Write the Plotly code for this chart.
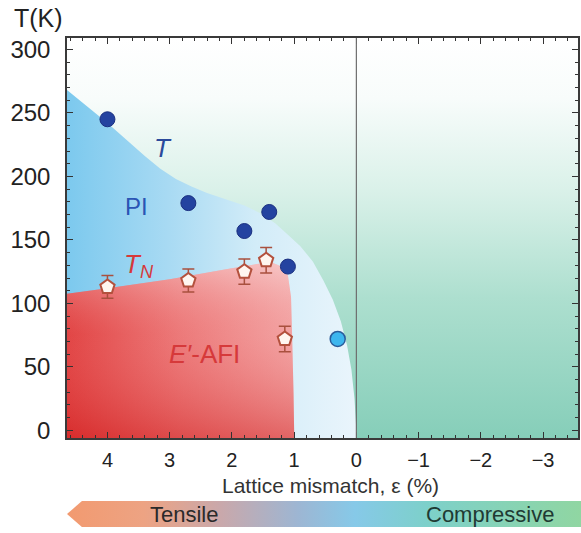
import plotly.graph_objects as go

# ---------------- data ----------------
# T (structural transition) points, dark blue circles
t_eps = [4.0, 2.7, 1.8, 1.4, 1.1]
t_temp = [245, 179, 157, 172, 129]
# bulk-like point, light blue circle
t0_eps = [0.3]
t0_temp = [72]
# T_N points with error bars (pentagons)
tn_eps = [4.0, 2.7, 1.8, 1.45, 1.15]
tn_temp = [113, 118, 125, 134, 72]
tn_err = [9, 9, 10, 10, 10]

# PI phase boundary (upper edge of blue region)
pi_eps = [5.0, 4.65, 4.3, 4.0, 3.7, 3.4, 3.15, 2.9, 2.65, 2.4, 2.1, 1.8, 1.54, 1.3, 1.1, 0.9,
          0.7, 0.53, 0.38, 0.25, 0.15, 0.08, 0.03, 0.0, 0.0, 5.0]
pi_temp = [283, 268, 254, 242, 229, 216, 206, 198, 192, 187, 182, 177, 171, 163, 154, 145,
           133, 118, 103, 86, 67, 48, 25, 0, -20, -20]

# E'-AFI phase boundary (red region)
afi_eps = [5.0, 4.65, 4.0, 3.0, 2.07, 1.6, 1.35, 1.2, 1.1, 1.05, 1.03, 1.01, 1.0, 1.0, 5.0]
afi_temp = [106, 107.5, 112, 119, 127, 131, 132, 129, 122, 105, 70, 30, 0, -20, -20]

# background (whole plane)
bg_eps = [6.0, -5.0, -5.0, 6.0]
bg_temp = [-20, -20, 330, 330]

# strain arrow (in its own unit axis)
arrow_x = [0.0, 0.029, 1.0, 1.0, 0.029]
arrow_y = [0.5, 1.0, 1.0, 0.0, 0.0]

x_tickvals = [4, 3, 2, 1, 0, -1, -2, -3]
x_ticktext = ["4", "3", "2", "1", "0", "\u22121", "\u22122", "\u22123"]
y_tickvals = [0, 50, 100, 150, 200, 250, 300]
y_ticktext = ["0", "50", "100", "150", "200", "250", "300"]

FONT = "Liberation Sans, Arial, Helvetica, sans-serif"

fig = go.Figure()

fig.add_trace(go.Scatter(
    x=bg_eps, y=bg_temp, mode="none", fill="toself",
    fillgradient=dict(type="vertical", start=-6, stop=309,
                      colorscale=[[0, "#86CEB9"], [0.35, "#ADDFCF"], [0.62, "#DAF1E9"],
                                  [0.85, "#F8FCFB"], [1, "#FFFFFF"]]),
    hoverinfo="skip", showlegend=False))

fig.add_trace(go.Scatter(
    x=pi_eps, y=pi_temp, mode="none", fill="toself",
    fillgradient=dict(type="horizontal", start=0, stop=4.65,
                      colorscale=[[0, "#EAF5FC"], [0.35, "#D2ECF8"], [0.65, "#A8DAF3"], [1, "#7CC9EE"]]),
    hoverinfo="skip", showlegend=False))

fig.add_trace(go.Scatter(
    x=afi_eps, y=afi_temp, mode="none", fill="toself",
    fillgradient=dict(type="horizontal", start=1.0, stop=4.65,
                      colorscale=[[0, "#F3A8A8"], [0.5, "#EC7A7A"], [1, "#E04040"]]),
    hoverinfo="skip", showlegend=False))

fig.add_trace(go.Scatter(
    x=afi_eps, y=afi_temp, mode="none", fill="toself",
    fillgradient=dict(type="vertical", start=-6, stop=130,
                      colorscale=[[0, "rgba(205,20,20,0.45)"], [0.6, "rgba(240,120,120,0.1)"],
                                  [1, "rgba(255,255,255,0.35)"]]),
    hoverinfo="skip", showlegend=False))

# markers
fig.add_trace(go.Scatter(
    x=tn_eps, y=tn_temp, mode="markers",
    marker=dict(symbol="pentagon", size=15, color="#FFF6F0",
                line=dict(color="#B4513D", width=2)),
    error_y=dict(type="data", array=tn_err, color="#A9503E", thickness=1.5, width=6),
    showlegend=False))

fig.add_trace(go.Scatter(
    x=t_eps, y=t_temp, mode="markers",
    marker=dict(symbol="circle", size=15, color="#2443A0", line=dict(color="#1A2F80", width=1)),
    showlegend=False))

fig.add_trace(go.Scatter(
    x=t0_eps, y=t0_temp, mode="markers",
    marker=dict(symbol="circle", size=15, color="#3DB6EE", line=dict(color="#2A5C9A", width=1.5)),
    showlegend=False))

# strain arrow
fig.add_trace(go.Scatter(
    x=arrow_x, y=arrow_y, xaxis="x2", yaxis="y2", mode="none", fill="toself",
    fillgradient=dict(type="horizontal", start=0, stop=1,
                      colorscale=[[0, "#F29A70"], [0.15, "#EDA383"], [0.3, "#C9A8AB"],
                                  [0.45, "#9DB6D3"], [0.56, "#86C9E8"], [0.7, "#7DD0CA"],
                                  [1, "#90D6A2"]]),
    hoverinfo="skip", showlegend=False))

axis_common = dict(
    showline=True, linecolor="#3A3A3A", linewidth=1.5, mirror="ticks",
    ticks="inside", ticklen=6, tickwidth=1.3, tickcolor="#333333",
    showgrid=False, zeroline=False, layer="above traces",
)

fig.update_layout(
    width=581, height=533,
    margin=dict(l=67, r=0, t=38, b=6),
    paper_bgcolor="white", plot_bgcolor="white",
    font=dict(family=FONT, color="#222222"),
    xaxis=dict(domain=[0, 0.994], range=[4.65, -3.56], tickmode="array",
               tickvals=x_tickvals, ticktext=x_ticktext, ticklabelstandoff=3,
               minor=dict(dtick=0.2, tick0=0, ticks="inside", ticklen=3, tickcolor="#333333"),
               tickfont=dict(family=FONT, color="#222222", size=20), **axis_common),
    yaxis=dict(domain=[0.182, 1], range=[-6, 309], tickmode="array",
               tickvals=y_tickvals, ticktext=y_ticktext, ticklabelstandoff=10,
               minor=dict(dtick=10, tick0=0, ticks="inside", ticklen=3, tickcolor="#333333"),
               tickfont=dict(family=FONT, color="#222222", size=24), **axis_common),
    xaxis2=dict(domain=[0, 1], range=[0, 1], anchor="y2", visible=False, fixedrange=True),
    yaxis2=dict(domain=[0.0, 0.053], range=[0, 1], anchor="x2", visible=False, fixedrange=True),
    shapes=[dict(type="line", xref="x", yref="y domain", x0=0, x1=0, y0=0, y1=1,
                 line=dict(color="#6E6E6E", width=1.2), layer="above")],
    annotations=[
        dict(text="T(K)", xref="paper", yref="paper", x=-0.055, y=1.041,
             showarrow=False, font=dict(size=25, color="#222222"), xanchor="center", yanchor="middle"),
        dict(text="Lattice mismatch, \u03b5 (%)", xref="paper", yref="paper", x=0.512, y=0.085,
             showarrow=False, font=dict(size=21, color="#333333"), xanchor="center", yanchor="middle"),
        dict(text="<i>T</i>", xref="x", yref="y", x=3.1, y=222, showarrow=False,
             font=dict(size=26, color="#2B4A9B")),
        dict(text="PI", xref="x", yref="y", x=3.53, y=176, showarrow=False,
             font=dict(size=24, color="#2A55B5")),
        dict(text="<i>T<sub>N</sub></i>", xref="x", yref="y", x=3.5, y=130, showarrow=False,
             font=dict(size=26, color="#D6393A")),
        dict(text="<i>E\u2032</i>-AFI", xref="x", yref="y", x=2.44, y=60, showarrow=False,
             font=dict(size=26, color="#D6393A")),
        dict(text="Tensile", xref="x2", yref="y2", x=0.228, y=0.5, showarrow=False,
             font=dict(size=22, color="#2A2A2A")),
        dict(text="Compressive", xref="x2", yref="y2", x=0.823, y=0.5, showarrow=False,
             font=dict(size=22, color="#1F3A33")),
    ],
)

fig.write_html("out.html")
